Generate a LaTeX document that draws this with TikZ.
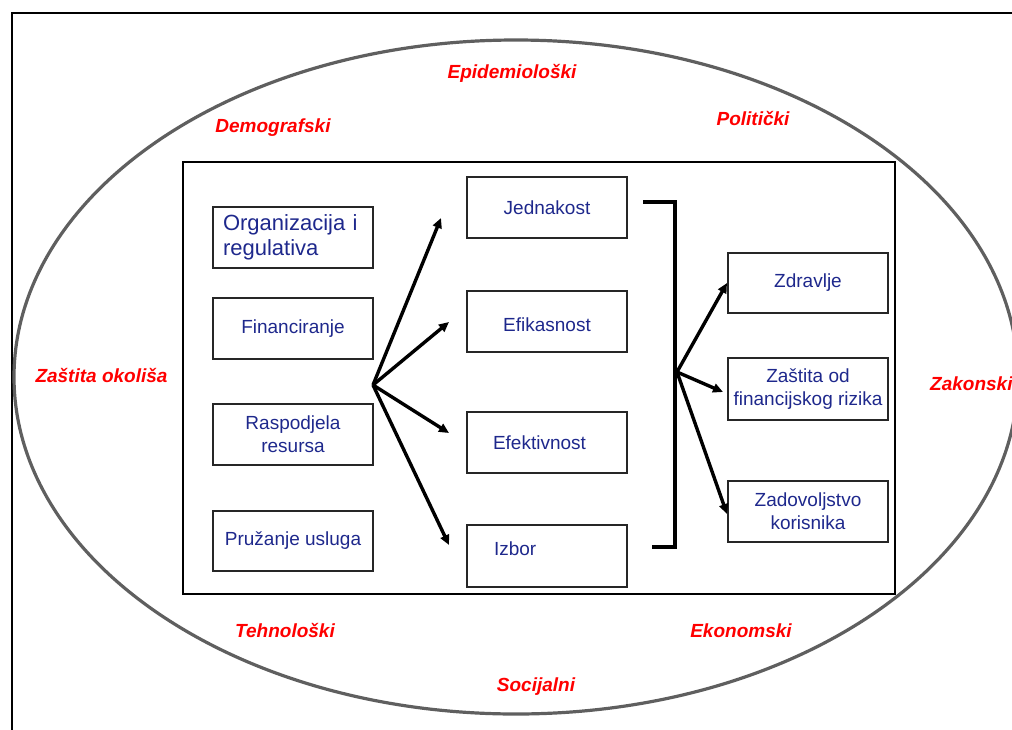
\documentclass[tikz,border=0pt]{standalone}
\usepackage{fontspec}
\setmainfont{Liberation Sans}
\usetikzlibrary{arrows.meta}
\definecolor{navy}{RGB}{30,40,140}
\definecolor{ringgray}{RGB}{95,95,95}
\begin{document}
\begin{tikzpicture}[x=1pt,y=-1pt,
  redlab/.style={text=red, font=\bfseries\itshape\fontsize{19}{22}\selectfont, anchor=base, inner sep=0pt},
  box/.style={draw=black!85, line width=1.4pt, minimum width=160pt, minimum height=61pt, text=navy, font=\fontsize{19}{23}\selectfont, align=center, inner ysep=1pt, inner xsep=2pt},
  arr/.style={line width=3.4pt, -{Triangle[length=10pt,width=9pt]}},
  bracketline/.style={line width=3.8pt}
]
\useasboundingbox (0,0) rectangle (1012,729);
\clip (0,0) rectangle (1012,729);
% outer frame
\draw[line width=2pt] (12,740) -- (12,13) -- (1020,13);
% ellipse
\draw[ringgray, line width=3.2pt] (516,377) ellipse [x radius=502pt, y radius=337pt];
% inner rectangle
\draw[line width=1.5pt] (183,162) rectangle (895,594);

% left column
\node[box, align=left, text width=140pt, inner xsep=10pt, font=\fontsize{22}{25}\selectfont] (org) at (293,237.5) {Organizacija i\\regulativa};
\node[box] (fin) at (293,328.5) {Financiranje};
\node[box] (ras) at (293,434.5) {Raspodjela\\resursa};
\node[box, minimum height=60pt] (pru) at (293,541) {Pružanje usluga};

% middle column
\node[box] (jed) at (547,207.5) {Jednakost};
\node[box, text height=21pt] (efi) at (547,321.5) {Efikasnost};
\node[box, align=left, text width=108pt, inner xsep=26pt] (efe) at (547,442.5) {Efektivnost};
\node[box, align=left, text width=106pt, inner xsep=27pt, minimum height=62pt, text depth=14pt] (izb) at (547,556) {Izbor};

% right column
\node[box, minimum height=60pt] (zdr) at (808,283) {Zdravlje};
\node[box, minimum height=62pt] (zas) at (808,389) {Zaštita od\\financijskog rizika};
\node[box] (zad) at (808,511.5) {Zadovoljstvo\\korisnika};

% bracket
\draw[bracketline] (643,202) -- (675,202) -- (675,547) -- (652,547);

% fan arrows
\coordinate (fanL) at (373,385);
\coordinate (fanR) at (677,372);
\coordinate (tJ) at (441,218);
\coordinate (tF) at (449,322);
\coordinate (tE) at (449,433);
\coordinate (tI) at (449,545);
\coordinate (tZ) at (727,283);
\coordinate (tR) at (723,392);
\coordinate (tK) at (727,514);
\draw[arr] (fanL) -- (tJ);
\draw[arr] (fanL) -- (tF);
\draw[arr] (fanL) -- (tE);
\draw[arr] (fanL) -- (tI);
\draw[arr] (fanR) -- (tZ);
\draw[arr] (fanR) -- (tR);
\draw[arr] (fanR) -- (tK);

% red labels
\node[redlab] (epi) at (512,78) {Epidemiološki};
\node[redlab] (dem) at (273,132) {Demografski};
\node[redlab] (pol) at (753,125) {Politički};
\node[redlab] (zok) at (101.5,382) {Zaštita okoliša};
\node[redlab, anchor=base west] (zak) at (930,390) {Zakonski};
\node[redlab] (teh) at (285,637) {Tehnološki};
\node[redlab] (eko) at (741,637) {Ekonomski};
\node[redlab] (soc) at (536,691) {Socijalni};
\end{tikzpicture}
\end{document}
